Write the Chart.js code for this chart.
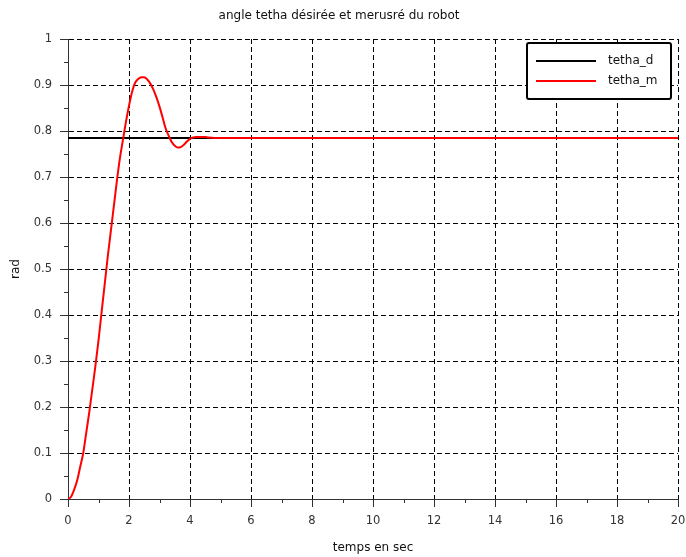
<!DOCTYPE html>
<html>
<head>
<meta charset="utf-8">
<script src="https://cdn.jsdelivr.net/npm/chart.js@4/dist/chart.umd.min.js"></script>
<style>
  html, body { margin: 0; padding: 0; background: #fff; }
  #wrap { width: 686px; height: 557px; }
</style>
</head>
<body>
<div id="wrap"><canvas id="c" width="686" height="557"></canvas></div>
<script>
// Step response of the robot angle (seconds / radians)
const timeSec = [0, 0.1, 0.2, 0.3, 0.4, 0.5, 0.6, 0.7, 0.8, 0.9,
                 1.0, 1.1, 1.2, 1.3, 1.4, 1.5, 1.6, 1.7, 1.8, 1.9,
                 2.0, 2.1, 2.2, 2.3, 2.4, 2.5, 2.6, 2.7, 2.8, 2.9,
                 3.0, 3.1, 3.2, 3.3, 3.4, 3.5, 3.6, 3.7, 3.8, 3.9,
                 4.0, 4.1, 4.2, 4.3, 4.4, 4.5, 4.6, 4.8, 5.0, 20];
const tethaM = [0, 0.005, 0.02, 0.04, 0.07, 0.10, 0.145, 0.19, 0.24, 0.29,
                0.345, 0.405, 0.465, 0.525, 0.58, 0.635, 0.69, 0.74, 0.78, 0.82,
                0.855, 0.885, 0.905, 0.913, 0.917, 0.917, 0.912, 0.903, 0.89, 0.873,
                0.853, 0.83, 0.806, 0.79, 0.776, 0.768, 0.764, 0.765, 0.77, 0.777,
                0.783, 0.786, 0.787, 0.787, 0.787, 0.787, 0.786, 0.785, 0.785, 0.785];
const tethaDTime = [0, 20];
const tethaD = [0.785, 0.785];

const seriesLabels = ['tetha_d', 'tetha_m'];
const seriesColors = ['#000000', '#ff0000'];
const chartTitle = 'angle tetha désirée et merusré du robot';
const xTitle = 'temps en sec';
const yTitle = 'rad';
const xMin = 0, xMax = 20, xStep = 2;
const yMin = 0, yMax = 1, yStep = 0.1;

const FONT = '"DejaVu Sans", sans-serif';

const toPoints = (xs, ys) => xs.map((x, i) => ({ x: x, y: ys[i] }));
const shortNumber = v => String(Number(v.toFixed(2)));

// Short ticks halfway between the labelled ones
const minorTicks = {
  id: 'minorTicks',
  afterDraw(chart) {
    const ctx = chart.ctx;
    const xs = chart.scales.x, ys = chart.scales.y;
    ctx.save();
    ctx.strokeStyle = '#333';
    ctx.lineWidth = 1;
    ctx.beginPath();
    for (let v = xMin + xStep / 2; v < xMax; v += xStep) {
      const px = Math.round(xs.getPixelForValue(v)) + 0.5;
      ctx.moveTo(px, ys.bottom);
      ctx.lineTo(px, ys.bottom + 4);
    }
    for (let v = yMin + yStep / 2; v < yMax; v += yStep) {
      const py = Math.round(ys.getPixelForValue(v)) + 0.5;
      ctx.moveTo(xs.left - 4, py);
      ctx.lineTo(xs.left, py);
    }
    ctx.stroke();
    ctx.restore();
  }
};

// Boxed legend inside the upper right corner of the plot
const boxLegend = {
  id: 'boxLegend',
  afterDraw(chart) {
    const ctx = chart.ctx;
    const a = chart.chartArea;
    const w = 144, h = 56;
    const x0 = a.right - 7 - w, y0 = a.top + 4;
    ctx.save();
    ctx.fillStyle = '#fff';
    ctx.fillRect(x0, y0, w, h);
    ctx.strokeStyle = '#000';
    ctx.lineWidth = 2;
    ctx.beginPath();
    ctx.roundRect(x0, y0, w, h, 2);
    ctx.stroke();
    ctx.font = '12px ' + FONT;
    ctx.textBaseline = 'middle';
    ctx.textAlign = 'left';
    chart.data.datasets.forEach((ds, i) => {
      const y = y0 + 18 + i * 20;
      ctx.strokeStyle = ds.borderColor;
      ctx.lineWidth = 2;
      ctx.beginPath();
      ctx.moveTo(x0 + 9, y);
      ctx.lineTo(x0 + 69, y);
      ctx.stroke();
      ctx.fillStyle = '#111';
      ctx.fillText(ds.label, x0 + 81, y);
    });
    ctx.restore();
  }
};

new Chart(document.getElementById('c'), {
  type: 'line',
  data: {
    datasets: [
      {
        label: seriesLabels[0],
        data: toPoints(tethaDTime, tethaD),
        borderColor: seriesColors[0],
        borderWidth: 2,
        pointRadius: 0,
        order: 1
      },
      {
        label: seriesLabels[1],
        data: toPoints(timeSec, tethaM),
        borderColor: seriesColors[1],
        borderWidth: 2,
        pointRadius: 0,
        cubicInterpolationMode: 'monotone',
        order: 0
      }
    ]
  },
  options: {
    responsive: false,
    animation: false,
    layout: { padding: { top: 0, right: 8, bottom: 0, left: 0 } },
    plugins: {
      legend: { display: false },
      tooltip: { enabled: false },
      title: {
        display: true,
        text: chartTitle,
        color: '#111',
        font: { family: FONT, size: 12, weight: 'normal' },
        padding: { top: 9, bottom: 15.6 }
      }
    },
    scales: {
      x: {
        type: 'linear',
        min: xMin,
        max: xMax,
        afterFit(s) { s.height = 58; s.paddingLeft = 0; s.paddingRight = 0; },
        ticks: {
          stepSize: xStep,
          color: '#333',
          padding: 7,
          maxRotation: 0,
          font: { family: FONT, size: 11.5 },
          callback: shortNumber
        },
        grid: {
          color: '#000',
          lineWidth: 1,
          tickLength: 8,
          tickColor: '#333',
          tickBorderDash: []
        },
        border: { color: '#333', width: 1, dash: [5, 3] },
        title: {
          display: true,
          text: xTitle,
          color: '#111',
          font: { family: FONT, size: 12 },
          padding: { top: 0, bottom: 1.8 }
        }
      },
      y: {
        type: 'linear',
        min: yMin,
        max: yMax,
        afterFit(s) { s.width = 68; s.paddingTop = 0; s.paddingBottom = 0; },
        ticks: {
          stepSize: yStep,
          color: '#333',
          padding: 8,
          font: { family: FONT, size: 11.5 },
          callback: shortNumber
        },
        grid: {
          color: '#000',
          lineWidth: 1,
          tickLength: 8,
          tickColor: '#333',
          tickBorderDash: []
        },
        border: { color: '#333', width: 1, dash: [5, 3] },
        title: {
          display: true,
          text: yTitle,
          color: '#111',
          font: { family: FONT, size: 12 },
          padding: { top: 8.8, bottom: 0 }
        }
      }
    }
  },
  plugins: [minorTicks, boxLegend]
});
</script>
</body>
</html>
